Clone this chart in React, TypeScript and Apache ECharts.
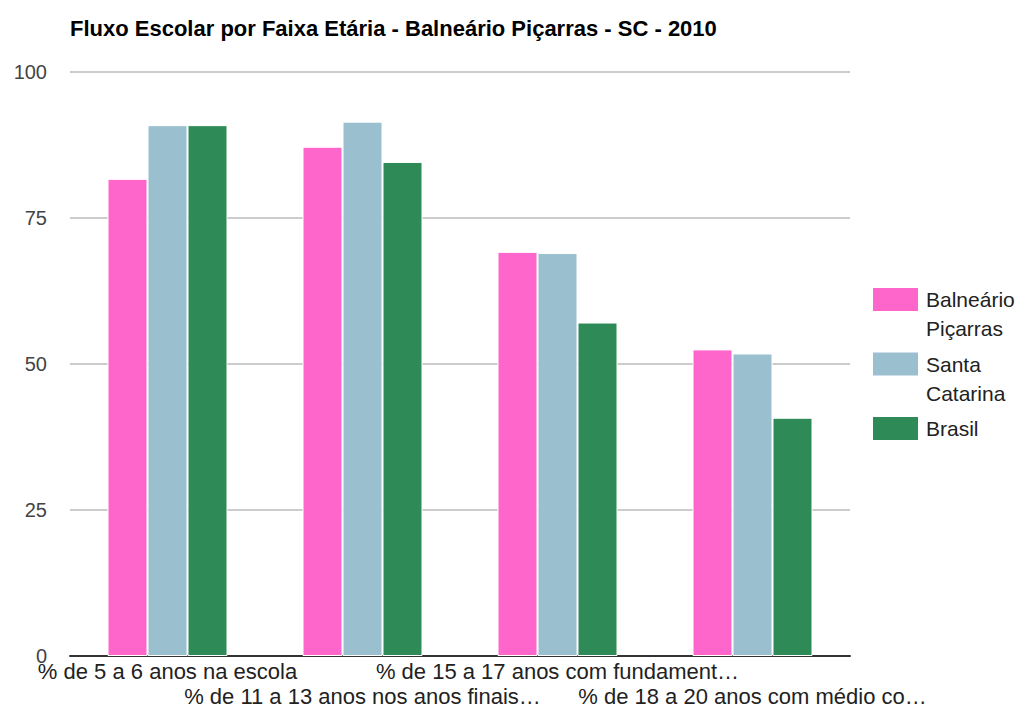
import React, { useEffect, useRef } from "react";
import * as echarts from "echarts";

const title = "Fluxo Escolar por Faixa Etária - Balneário Piçarras - SC - 2010";
const categories = [
  "% de 5 a 6 anos na escola",
  "% de 11 a 13 anos nos anos finais…",
  "% de 15 a 17 anos com fundament…",
  "% de 18 a 20 anos com médio co…",
];
const seriesNames = ["Balneário Piçarras", "Santa Catarina", "Brasil"];
const legendLabels = ["Balneário\nPiçarras", "Santa\nCatarina", "Brasil"];
const seriesColors = ["#ff66cc", "#9abfce", "#2e8b57"];
const balnearioPicarras = [81.7, 87.2, 69.2, 52.5];
const santaCatarina = [90.9, 91.5, 69.0, 51.8];
const brasil = [90.9, 84.6, 57.1, 40.8];
const seriesValues = [balnearioPicarras, santaCatarina, brasil];
const yTicks = { min: 0, max: 100, interval: 25 };

const FONT = "'Liberation Sans', Arial, sans-serif";

export default function App() {
  const ref = useRef<HTMLDivElement>(null);
  useEffect(() => {
    document.body.style.margin = "0";
    if (!ref.current) return;
    const chart = echarts.init(ref.current, undefined, { renderer: "svg" });
    const legendGraphics: any[] = [];
    seriesNames.forEach((_, i) => {
      const top = 288 + i * 64.5;
      legendGraphics.push({
        type: "rect",
        shape: { x: 873, y: top, width: 45, height: 23 },
        style: { fill: seriesColors[i] },
      });
      legendGraphics.push({
        type: "text",
        x: 926,
        y: top - 3,
        style: {
          text: legendLabels[i],
          font: `21px ${FONT}`,
          fill: "#222",
          lineHeight: 29,
          verticalAlign: "top",
          align: "left",
        },
      });
    });
    chart.setOption({
      animation: false,
      backgroundColor: "#fff",
      title: {
        text: title,
        left: 65,
        top: 12,
        textStyle: { fontFamily: FONT, fontSize: 22, fontWeight: "bold", color: "#000" },
      },
      grid: { left: 70, right: 172, top: 72, bottom: 52, containLabel: false },
      xAxis: {
        type: "category",
        data: categories,
        axisLine: { show: true, lineStyle: { color: "#333", width: 2 } },
        axisTick: { show: false },
        axisLabel: {
          interval: 0,
          margin: 3,
          fontFamily: FONT,
          fontSize: 22,
          lineHeight: 25,
          color: "#222",
          verticalAlign: "top",
          formatter: (v: string, i: number) => (i % 2 === 1 ? "\n" + v : v),
        },
        splitLine: { show: false },
      },
      yAxis: {
        type: "value",
        min: yTicks.min,
        max: yTicks.max,
        interval: yTicks.interval,
        axisLine: { show: false },
        axisTick: { show: false },
        axisLabel: { fontFamily: FONT, fontSize: 20, color: "#444", margin: 23 },
        splitLine: { lineStyle: { color: "#cccccc", width: 2 } },
      },
      series: seriesNames.map((name, i) => ({
        name,
        type: "bar",
        data: seriesValues[i],
        barWidth: 40,
        barGap: "0%",
        itemStyle: { color: seriesColors[i], borderColor: "#fff", borderWidth: 1 },
      })),
      graphic: legendGraphics,
    });
    return () => chart.dispose();
  }, []);
  return (
    <div
      ref={ref}
      style={{ width: 1022, height: 709, position: "absolute", left: 0, top: 0 }}
    />
  );
}
